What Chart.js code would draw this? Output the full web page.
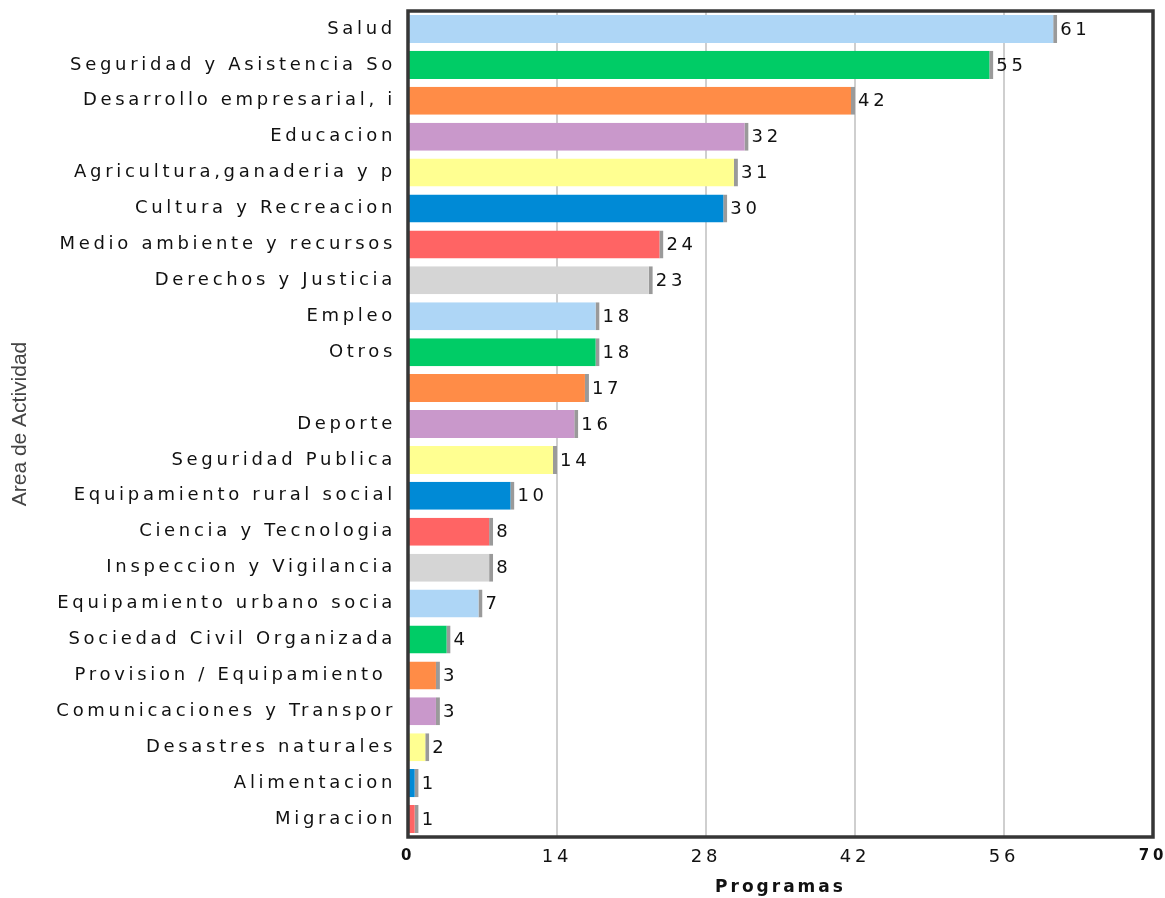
<!DOCTYPE html>
<html>
<head>
<meta charset="utf-8">
<script src="https://cdn.jsdelivr.net/npm/chart.js@4.4.1/dist/chart.umd.min.js"></script>
<style>
  html, body { margin: 0; padding: 0; background: #fff; }
  #wrap { width: 1165px; height: 898px; position: relative; }
</style>
</head>
<body>
<div id="wrap"><canvas id="c"></canvas></div>
<script>
const categories = [
  "Salud", "Seguridad y Asistencia So", "Desarrollo empresarial, i", "Educacion",
  "Agricultura,ganaderia y p", "Cultura y Recreacion", "Medio ambiente y recursos",
  "Derechos y Justicia", "Empleo", "Otros", "", "Deporte", "Seguridad Publica",
  "Equipamiento rural social", "Ciencia y Tecnologia", "Inspeccion y Vigilancia",
  "Equipamiento urbano socia", "Sociedad Civil Organizada", "Provision / Equipamiento ",
  "Comunicaciones y Transpor", "Desastres naturales", "Alimentacion", "Migracion"
];
const programas = [61, 55, 42, 32, 31, 30, 24, 23, 18, 18, 17, 16, 14, 10, 8, 8, 7, 4, 3, 3, 2, 1, 1];
const palette = ["#AED6F6", "#00CC66", "#FF8C47", "#C998CB", "#FFFF91", "#008AD6", "#FF6464", "#D5D5D5"];
const xTicks = [0, 14, 28, 42, 56, 70];

const LS = '3.7px';
const tickFont = 'DejaVu Sans';

const barColors = categories.map((_, i) => palette[i % palette.length]);

const spacingPlugin = {
  id: 'spacing',
  beforeDraw(chart) {
    ['x', 'y'].forEach(id => {
      const sc = chart.scales[id];
      if (sc && !sc._lsPatched) {
        const orig = sc.drawLabels;
        sc.drawLabels = function (a) {
          const c = this.ctx; c.save(); c.letterSpacing = LS; orig.call(this, a); c.restore();
        };
        if (id === 'x') {
          const ot = sc.drawTitle;
          sc.drawTitle = function () {
            const c = this.ctx; c.save(); c.letterSpacing = '3px'; ot.call(this); c.restore();
          };
        }
        sc._lsPatched = true;
      }
    });
  },
  afterDatasetsDraw(chart) {
    const ctx = chart.ctx;
    const a = chart.chartArea;
    const meta = chart.getDatasetMeta(0);
    ctx.save();
    ctx.letterSpacing = LS;
    ctx.font = '18px "' + tickFont + '"';
    ctx.fillStyle = '#111';
    ctx.textAlign = 'left';
    ctx.textBaseline = 'middle';
    meta.data.forEach((bar, i) => {
      ctx.fillText(String(programas[i]), bar.x + 3, bar.y + 1);
    });
    ctx.restore();
    ctx.save();
    ctx.strokeStyle = '#363636';
    ctx.lineWidth = 3.5;
    ctx.strokeRect(a.left, a.top, a.right - a.left, a.bottom - a.top);
    ctx.restore();
  }
};

new Chart(document.getElementById('c'), {
  type: 'bar',
  data: {
    labels: categories,
    datasets: [{
      data: programas,
      backgroundColor: barColors,
      borderColor: '#9a9a9a',
      borderWidth: { top: 0, right: 4, bottom: 0, left: 0 },
      borderSkipped: 'start',
      categoryPercentage: 1,
      barPercentage: 0.78
    }]
  },
  options: {
    indexAxis: 'y',
    responsive: true,
    maintainAspectRatio: false,
    animation: false,
    layout: { padding: { top: 11, right: 12, bottom: 0, left: 0 } },
    plugins: { legend: { display: false }, tooltip: { enabled: false } },
    scales: {
      x: {
        min: 0, max: 70,
        afterBuildTicks(s) { s.ticks = xTicks.map(v => ({ value: v })); },
        afterFit(s) { s.height = 61; s.paddingLeft = 0; s.paddingRight = 0; },
        grid: {
          drawTicks: false,
          color: ctx => (ctx.tick && (ctx.tick.value === 0 || ctx.tick.value === 70)) ? 'rgba(0,0,0,0)' : '#cfcfcf',
          lineWidth: 2
        },
        border: { display: false },
        ticks: {
          autoSkip: false, maxRotation: 0, padding: 10, color: '#111',
          font: ctx => {
            const v = ctx.tick ? ctx.tick.value : null;
            const b = (v === 0 || v === 70);
            return { family: tickFont, size: b ? 15 : 18, weight: b ? 'bold' : 'normal' };
          }
        },
        title: {
          display: true, text: 'Programas', color: '#111',
          font: { family: tickFont, size: 17, weight: 'bold' },
          padding: { top: 0, bottom: 0 }
        }
      },
      y: {
        afterFit(s) { s.width = 408; s.paddingTop = 0; s.paddingBottom = 0; },
        grid: { display: false, drawTicks: false },
        border: { display: false },
        ticks: {
          autoSkip: false, padding: 12, color: '#111',
          font: { family: tickFont, size: 18 }
        },
        title: {
          display: true, text: 'Area de Actividad', color: '#444',
          font: { family: '"Liberation Sans"', size: 21 },
          padding: { top: 8, bottom: 0 }
        }
      }
    }
  },
  plugins: [spacingPlugin]
});
</script>
</body>
</html>
